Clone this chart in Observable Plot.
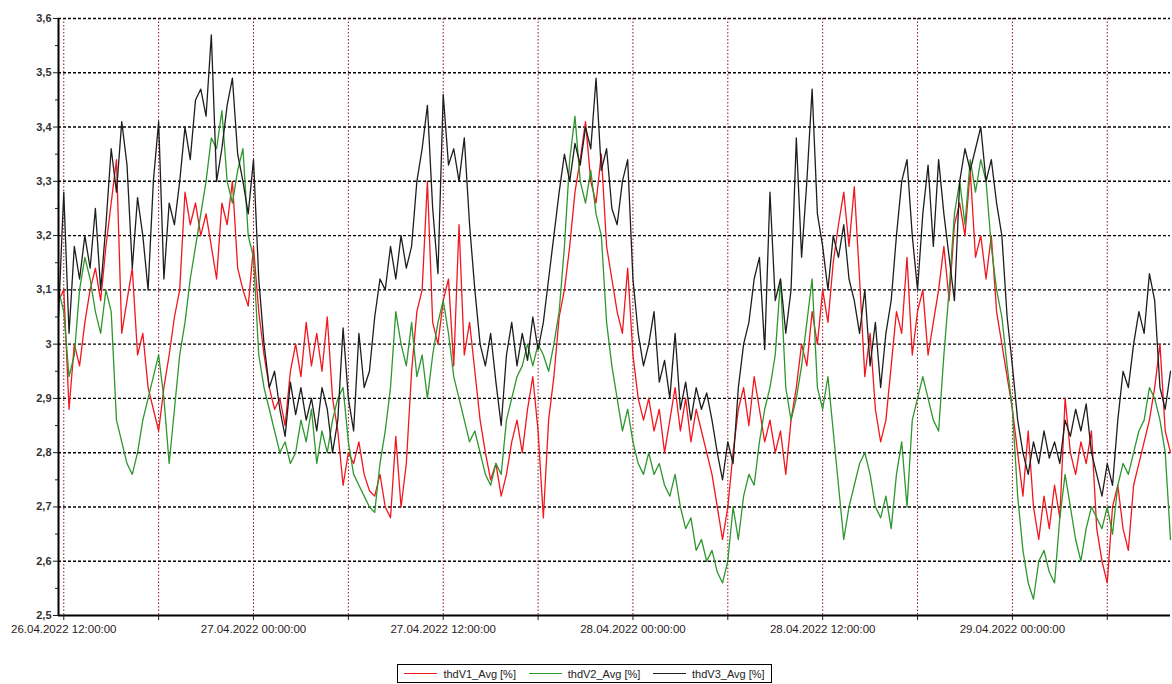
<!DOCTYPE html>
<html>
<head>
<meta charset="utf-8">
<script src="https://cdn.jsdelivr.net/npm/d3@7"></script>
<script src="https://cdn.jsdelivr.net/npm/@observablehq/plot@0.6"></script>
<style>
  html, body { margin: 0; padding: 0; background: #fff; }
  #legend {
    margin-left: 397px; margin-top: 19px; width: 375px; height: 19px;
    border: 1.5px solid #000; display: flex; align-items: center; justify-content: space-around;
    font: 11px "Liberation Sans", Arial, sans-serif; color: #222; box-sizing: border-box;
  }
  #legend span { display: flex; align-items: center; white-space: nowrap; }
  #legend b { display: inline-block; width: 33px; height: 1.5px; margin-right: 6px; }
</style>
</head>
<body>
<div id="chart"></div>
<div id="legend"></div>
<script>
// Series names and colours
const seriesNames = ["thdV1_Avg [%]", "thdV2_Avg [%]", "thdV3_Avg [%]"];
const seriesColors = ["#f2161e", "#2e972e", "#1e1e1e"];

// Sampling: 20-minute averages starting 26.04.2022 11:40
const startTime = Date.UTC(2022, 3, 26, 11, 40);
const endTime = Date.UTC(2022, 3, 29, 10, 0);
const stepMinutes = 20;

// thdV1 (red)
const v1 = [
3.08,3.10,2.88,3.00,2.96,3.04,3.10,3.14,3.08,3.18,
3.26,3.34,3.02,3.08,3.14,2.98,3.02,2.92,2.88,2.84,
2.92,2.98,3.05,3.10,3.28,3.22,3.26,3.20,3.24,3.18,
3.12,3.26,3.22,3.30,3.14,3.10,3.07,3.18,3.06,2.98,
2.92,2.88,2.90,2.85,2.95,3.00,2.94,3.04,2.96,3.02,
2.95,3.05,2.90,2.84,2.74,2.80,2.78,2.82,2.76,2.73,
2.72,2.76,2.70,2.68,2.83,2.70,2.78,2.95,3.06,3.10,
3.30,3.04,3.00,3.08,3.12,2.96,3.22,2.98,3.04,2.95,
2.86,2.80,2.75,2.78,2.72,2.76,2.82,2.86,2.80,2.88,
2.94,2.84,2.68,2.86,2.94,3.05,3.10,3.18,3.28,3.34,
3.41,3.30,3.26,3.35,3.18,3.12,3.06,3.02,3.14,2.98,
2.90,2.86,2.90,2.84,2.88,2.80,2.86,2.92,2.84,2.90,
2.82,2.88,2.84,2.80,2.76,2.70,2.64,2.70,2.80,2.88,
2.92,2.85,2.94,2.88,2.82,2.86,2.80,2.84,2.76,2.86,
2.92,3.00,2.96,3.06,3.00,3.10,3.04,3.15,3.22,3.28,
3.18,3.29,3.12,2.94,3.02,2.88,2.82,2.86,2.96,3.06,
3.02,3.16,2.98,3.06,3.10,2.98,3.04,3.10,3.18,3.08,
3.22,3.26,3.20,3.32,3.16,3.20,3.12,3.20,3.06,3.00,
2.94,2.88,2.80,2.72,2.84,2.70,2.64,2.72,2.66,2.74,
2.68,2.90,2.80,2.76,2.82,2.78,2.84,2.66,2.60,2.56,
2.70,2.74,2.66,2.62,2.74,2.78,2.82,2.86,2.92,3.00,
2.84,2.80
];

// thdV2 (green)
const v2 = [
3.10,3.06,2.94,2.98,3.10,3.16,3.12,3.06,3.02,3.10,
3.06,2.86,2.82,2.78,2.76,2.80,2.86,2.90,2.94,2.98,
2.90,2.78,2.88,2.98,3.04,3.12,3.18,3.24,3.30,3.38,
3.36,3.43,3.30,3.26,3.32,3.36,3.20,3.16,2.98,2.92,
2.88,2.84,2.80,2.82,2.78,2.80,2.86,2.82,2.88,2.78,
2.84,2.80,2.86,2.90,2.92,2.82,2.76,2.74,2.72,2.70,
2.69,2.78,2.84,2.92,3.06,3.00,2.96,3.04,2.94,2.98,
2.90,2.98,3.04,3.08,3.02,2.94,2.90,2.86,2.82,2.84,
2.80,2.76,2.74,2.78,2.76,2.86,2.90,2.94,2.96,3.00,
2.96,3.00,2.98,2.95,3.00,3.06,3.18,3.34,3.42,3.30,
3.26,3.32,3.24,3.20,3.04,2.96,2.90,2.84,2.88,2.82,
2.78,2.76,2.80,2.76,2.78,2.74,2.72,2.76,2.70,2.66,
2.68,2.62,2.64,2.60,2.62,2.58,2.56,2.60,2.70,2.64,
2.72,2.76,2.74,2.82,2.88,2.92,2.98,3.12,2.92,2.86,
2.90,2.96,3.04,3.12,2.92,2.88,2.94,2.84,2.74,2.64,
2.70,2.74,2.78,2.80,2.76,2.70,2.68,2.72,2.66,2.76,
2.82,2.70,2.86,2.90,2.94,2.90,2.86,2.84,2.98,3.10,
3.24,3.30,3.22,3.34,3.28,3.34,3.30,3.18,3.10,3.05,
2.96,2.88,2.72,2.62,2.56,2.53,2.60,2.62,2.58,2.56,
2.68,2.76,2.70,2.64,2.60,2.66,2.70,2.68,2.66,2.70,
2.65,2.74,2.78,2.76,2.80,2.84,2.86,2.92,2.90,2.86,
2.80,2.64
];

// thdV3 (black)
const v3 = [
3.05,3.28,3.02,3.18,3.12,3.20,3.14,3.25,3.10,3.22,
3.36,3.28,3.41,3.33,3.14,3.27,3.20,3.10,3.30,3.41,
3.12,3.26,3.22,3.30,3.40,3.34,3.45,3.47,3.42,3.57,
3.30,3.36,3.44,3.49,3.35,3.30,3.24,3.34,3.12,3.00,
2.92,2.95,2.88,2.83,2.93,2.87,2.92,2.86,2.90,2.84,
2.92,2.88,2.80,2.86,3.03,2.90,2.84,3.02,2.92,2.95,
3.05,3.12,3.10,3.18,3.12,3.20,3.14,3.18,3.30,3.36,
3.44,3.25,3.13,3.46,3.33,3.36,3.30,3.38,3.22,3.10,
3.00,2.96,3.02,2.93,2.85,2.98,3.04,2.96,3.02,2.97,
3.05,2.99,3.04,3.12,3.20,3.28,3.35,3.30,3.37,3.33,
3.40,3.36,3.49,3.32,3.36,3.25,3.22,3.30,3.34,3.12,
3.02,2.96,3.00,3.06,2.93,2.97,2.90,3.02,2.88,2.93,
2.86,2.92,2.88,2.91,2.86,2.80,2.75,2.82,2.78,2.92,
3.00,3.04,3.12,3.16,2.99,3.28,3.08,3.12,3.02,3.10,
3.38,3.16,3.30,3.47,3.24,3.18,3.10,3.20,3.16,3.22,
3.12,3.08,3.02,3.10,2.96,3.04,2.92,3.02,3.08,3.20,
3.30,3.34,3.20,3.10,3.24,3.33,3.18,3.34,3.24,3.16,
3.08,3.30,3.36,3.32,3.36,3.40,3.30,3.34,3.26,3.20,
3.05,2.96,2.86,2.80,2.76,2.82,2.78,2.84,2.79,2.82,
2.78,2.86,2.83,2.88,2.84,2.89,2.80,2.76,2.72,2.78,
2.74,2.86,2.95,2.92,3.00,3.06,3.02,3.13,3.08,2.92,
2.88,2.95
];

// Axis ticks
const yTicks = [2.5,2.6,2.7,2.8,2.9,3.0,3.1,3.2,3.3,3.4,3.5,3.6];
const yTickLabels = ["2,5","2,6","2,7","2,8","2,9","3","3,1","3,2","3,3","3,4","3,5","3,6"];
const yMinorTicks = [2.55,2.65,2.75,2.85,2.95,3.05,3.15,3.25,3.35,3.45,3.55];
const yGridValues = [2.6,2.7,2.8,2.9,3.0,3.1,3.2,3.3,3.4,3.5,3.6];
const xLabelTicks = ["2022-04-26T12:00Z","2022-04-27T00:00Z","2022-04-27T12:00Z","2022-04-28T00:00Z","2022-04-28T12:00Z","2022-04-29T00:00Z"];
const xGridTicks = ["2022-04-26T12:00Z","2022-04-26T18:00Z","2022-04-27T00:00Z","2022-04-27T06:00Z","2022-04-27T12:00Z","2022-04-27T18:00Z","2022-04-28T00:00Z","2022-04-28T06:00Z","2022-04-28T12:00Z","2022-04-28T18:00Z","2022-04-29T00:00Z","2022-04-29T06:00Z"];

const times = v1.map((_, i) => new Date(startTime + i * stepMinutes * 60000));
const xLabelDates = xLabelTicks.map(s => new Date(s));
const xGridDates = xGridTicks.map(s => new Date(s));
const fmt = d3.utcFormat("%d.%m.%Y %H:%M:%S");
const seriesValues = [v1, v2, v3];

const chart = Plot.plot({
  width: 1172,
  height: 645,
  marginLeft: 58,
  marginRight: 2,
  marginTop: 18,
  marginBottom: 30,
  style: { fontFamily: "'Liberation Sans', Arial, sans-serif", fontSize: "11px", color: "#1a1a1a", background: "#fff" },
  x: { type: "utc", domain: [new Date(startTime), new Date(endTime)] },
  y: { domain: [2.5, 3.6] },
  marks: [
    Plot.gridY(yGridValues, { stroke: "#000", strokeOpacity: 1, strokeWidth: 1.4, strokeDasharray: "3,2" }),
    Plot.gridX(xGridDates, { stroke: "#8c0f22", strokeOpacity: 1, strokeWidth: 1, strokeDasharray: "1.5,2" }),
    ...seriesValues.map((vals, k) =>
      Plot.lineY(vals, { x: (d, i) => times[i], y: d => d, stroke: seriesColors[k], strokeWidth: 1.3 })
    ),
    Plot.ruleY([2.5], { stroke: "#000", strokeWidth: 2 }),
    Plot.ruleX([new Date(startTime)], { stroke: "#000", strokeWidth: 2 }),
    Plot.axisY(yTicks, { tickFormat: d => yTickLabels[yTicks.indexOf(d)], tickSize: 5, tickPadding: 2, label: null, fontWeight: "bold", fill: "#333" }),
    Plot.axisY(yMinorTicks, { tickFormat: () => "", tickSize: 3, label: null }),
    Plot.axisX(xGridDates, { tickFormat: () => "", tickSize: 5, label: null }),
    Plot.axisX(xLabelDates, { tickFormat: d => fmt(d), tickSize: 0, tickPadding: 9, label: null, fill: "#2a1a1a", fontSize: 11.5 })
  ]
});
document.getElementById("chart").appendChild(chart);

const legend = document.getElementById("legend");
seriesNames.forEach((name, k) => {
  const s = document.createElement("span");
  const line = document.createElement("b");
  line.style.background = seriesColors[k];
  s.appendChild(line);
  s.appendChild(document.createTextNode(name));
  legend.appendChild(s);
});
</script>
</body>
</html>
